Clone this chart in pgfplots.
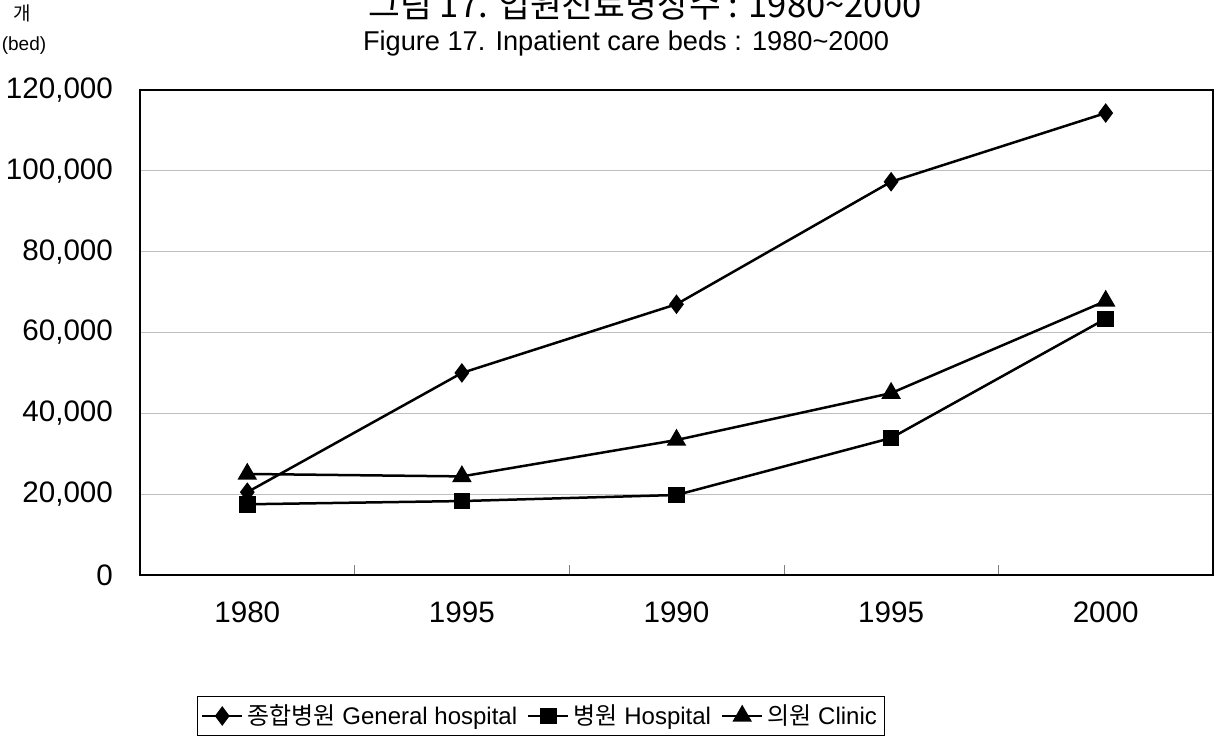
\documentclass[border=0pt]{standalone}
\usepackage{pgfplots}
\pgfplotsset{compat=1.18}
\usepackage{fontspec}
\setmainfont{Liberation Sans}
\newfontfamily\kr{Noto Sans CJK KR}

\begin{document}
\begin{tikzpicture}
\begin{axis}[
    at={(70pt,-287.5pt)}, anchor=south west,
    width=536.5pt, height=242.5pt, scale only axis,
    xmin=-0.5, xmax=4.5, ymin=0, ymax=120000,
    xtick={0,...,4}, xticklabels={1980,1995,1990,1995,2000},
    minor xtick={0.5,1.5,2.5,3.5},
    ytick={0,20000,...,120000},
    xtick pos=lower, ytick pos=left,
    major tick length=0pt, minor tick length=5pt,
    tick align=inside,
    ymajorgrids, grid style={gray!50, line width=0.6pt},
    axis line style={line width=1.1pt},
    scaled y ticks=false,
    /pgf/number format/fixed,
    /pgf/number format/1000 sep={,},
    /pgf/number format/assume math mode=true,
    tick label style={font=\fontsize{14.8}{16}\selectfont},
    yticklabel style={xshift=-10pt},
    xticklabel style={yshift=-10pt},
    legend columns=3,
    legend style={at={(0.3737,-0.2907)}, anchor=center, draw=black, line width=0.5pt,
        font=\fontsize{12}{14}\selectfont, inner sep=2pt,
        /tikz/every even column/.append style={column sep=3pt}},
    legend image code/.code={\draw[mark repeat=2,mark phase=2] plot coordinates {(0cm,0cm)(0.35cm,0cm)(0.7cm,0cm)};},
]
\addplot[black, line width=1.25pt, mark=diamond*, mark size=3.9pt] coordinates {
(0,20500)(1,50000)(2,67000)(3,97300)(4,114300)};
\addplot[black, line width=1.25pt, mark=square*, mark size=3.5pt] coordinates {
(0,17500)(1,18300)(2,19800)(3,33900)(4,63400)};
\addplot[black, line width=1.25pt, mark=triangle*, mark size=4.4pt] coordinates {
(0,25000)(1,24400)(2,33400)(3,45000)(4,67800)};
\legend{{\kr 종합병원} General hospital, {\kr 병원} Hospital, {\kr 의원} Clinic}
\end{axis}
\node[font=\kr\fontsize{17.3}{20}\selectfont, anchor=base] at (322.5pt,-8.5pt) {그림 17. 입원진료병상수 : 1980\textasciitilde 2000};
\node[font=\fontsize{13.6}{15}\selectfont, anchor=base] at (313pt,-25pt) {Figure 17. Inpatient care beds : 1980\textasciitilde 2000};
\node[font=\kr\fontsize{9.5}{11}\selectfont, anchor=base] at (11pt,-10pt) {개};
\node[font=\fontsize{9.5}{11}\selectfont, anchor=base] at (12pt,-25pt) {(bed)};
\pgfresetboundingbox
\path (0pt,0pt) rectangle (614pt,-376pt);
\end{tikzpicture}
\end{document}
